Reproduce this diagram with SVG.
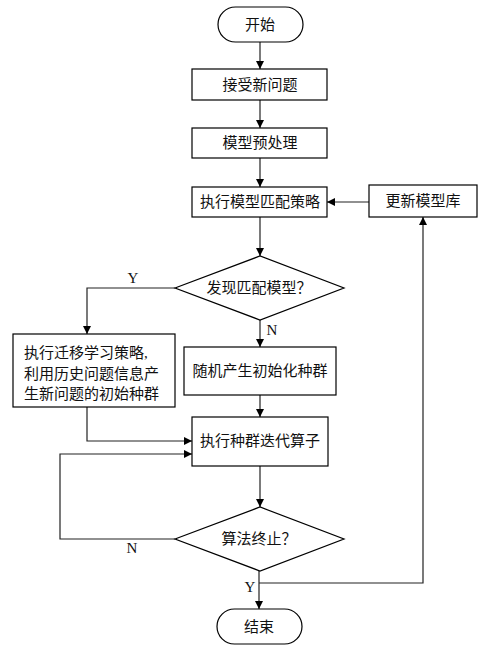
<svg xmlns="http://www.w3.org/2000/svg" width="486" height="653" viewBox="0 0 486 653">
<style>
.n{fill:#fff;stroke:#000;stroke-width:1.2}
.t{font-family:"Liberation Serif","Noto Sans CJK SC",serif;font-size:15px;fill:#111;text-anchor:middle;dominant-baseline:central}
.l{font-family:"Liberation Serif","Noto Sans CJK SC",serif;font-size:15px;fill:#111;dominant-baseline:central}
.c{fill:none;stroke:#222;stroke-width:1.2}
</style>
<defs>
<marker id="a" viewBox="0 0 10 10" refX="10" refY="5" markerWidth="8" markerHeight="8" markerUnits="userSpaceOnUse" orient="auto">
<path d="M0,0L10,5L0,10z" fill="#000"/>
</marker>
</defs>
<rect width="486" height="653" fill="#fff"/>
<g id="connectors">
<path class="c" d="M260,42V69" marker-end="url(#a)"/>
<path class="c" d="M260,100V128" marker-end="url(#a)"/>
<path class="c" d="M260,158V187" marker-end="url(#a)"/>
<path class="c" d="M260,217V256" marker-end="url(#a)"/>
<path class="c" d="M175,288H87V334" marker-end="url(#a)"/>
<path class="c" d="M260,320V347" marker-end="url(#a)"/>
<path class="c" d="M260,395V417" marker-end="url(#a)"/>
<path class="c" d="M87,407V441H192" marker-end="url(#a)"/>
<path class="c" d="M260,466V507" marker-end="url(#a)"/>
<path class="c" d="M175,539H60V454H192" marker-end="url(#a)"/>
<path class="c" d="M259,571V609" marker-end="url(#a)"/>
<path class="c" d="M259,583H423V217" marker-end="url(#a)"/>
<path class="c" d="M369,202H327" marker-end="url(#a)"/>
<text class="t" x="133" y="278">Y</text>
<text class="t" x="272" y="330">N</text>
<text class="t" x="132" y="548">N</text>
<text class="t" x="250" y="587">Y</text>
</g>
<g id="start"><rect class="n" x="218" y="7" width="85" height="35" rx="17.5"/><text class="t" x="260" y="25">开始</text></g>
<g id="receive"><rect class="n" x="192" y="69" width="135" height="31"/><text class="t" x="260" y="85">接受新问题</text></g>
<g id="preprocess"><rect class="n" x="192" y="128" width="135" height="30"/><text class="t" x="260" y="143">模型预处理</text></g>
<g id="match"><rect class="n" x="192" y="187" width="135" height="30"/><text class="t" x="260" y="202">执行模型匹配策略</text></g>
<g id="update"><rect class="n" x="369" y="185" width="108" height="32"/><text class="t" x="423" y="201">更新模型库</text></g>
<g id="found"><path class="n" d="M175,288L260,256L344,288L260,320Z"/><text class="t" x="259" y="288">发现匹配模型？</text></g>
<g id="transfer"><rect class="n" x="13" y="334" width="162" height="73"/>
<text class="l" x="24" y="353">执行迁移学习策略,</text>
<text class="l" x="24" y="374">利用历史问题信息产</text>
<text class="l" x="24" y="394">生新问题的初始种群</text></g>
<g id="random"><rect class="n" x="184" y="347" width="152" height="48"/><text class="t" x="260" y="371">随机产生初始化种群</text></g>
<g id="iterate"><rect class="n" x="192" y="417" width="136" height="49"/><text class="t" x="260" y="441">执行种群迭代算子</text></g>
<g id="terminate"><path class="n" d="M175,539L260,507L344,539L260,571Z"/><text class="t" x="259" y="539">算法终止？</text></g>
<g id="end"><rect class="n" x="217" y="609" width="85" height="35" rx="17.5"/><text class="t" x="259" y="627">结束</text></g>
</svg>
